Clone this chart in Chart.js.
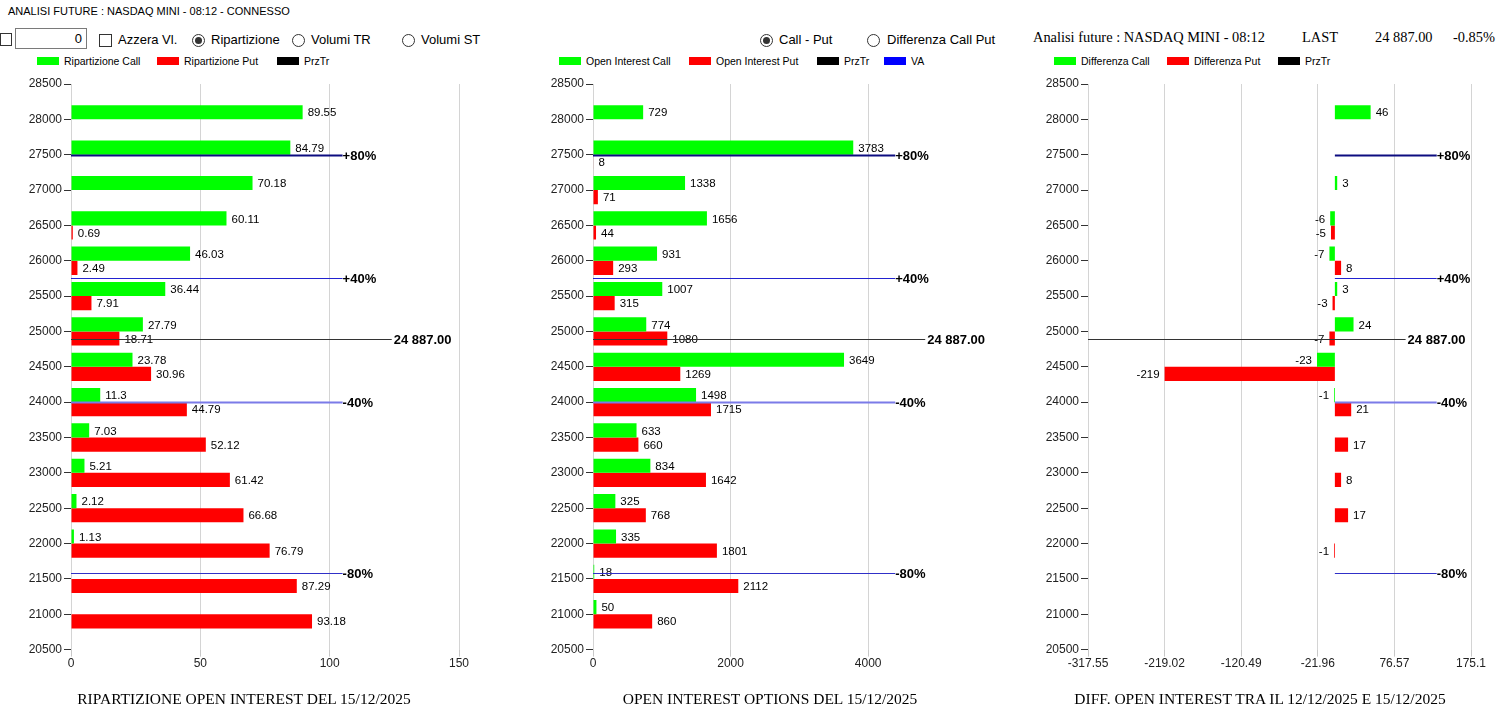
<!DOCTYPE html>
<html>
<head>
<meta charset="utf-8">
<title>Analisi future</title>
<script src="https://cdn.jsdelivr.net/npm/chart.js@4.4.1/dist/chart.umd.min.js"></script>
<style>
body { margin: 0; width: 1503px; height: 717px; background: #fff; position: relative; overflow: hidden; font-family: "Liberation Sans", Arial, sans-serif; color: #000; }
.abs { position: absolute; white-space: nowrap; }
.box { position: absolute; border: 1px solid #333; background: #fff; box-sizing: border-box; }
.radio { position: absolute; width: 13px; height: 13px; border: 1px solid #333; border-radius: 50%; box-sizing: border-box; background: #fff; }
.radio.on::after { content: ""; position: absolute; left: 2px; top: 2px; width: 7px; height: 7px; border-radius: 50%; background: #333; }
.leg { position: absolute; width: 22px; height: 8px; }
.wrap { position: absolute; top: 72px; height: 645px; }
.serif { font-family: "Liberation Serif", "Times New Roman", serif; }
.titolo { position: absolute; width: 600px; text-align: center; font-family: "Liberation Serif", "Times New Roman", serif; font-size: 15.5px; top: 690px; }
</style>
</head>
<body>

<div class="abs" style="left:8px; top:5px; font-size:11px;">ANALISI FUTURE : NASDAQ MINI - 08:12 - CONNESSO</div>

<div class="box" style="left:0px; top:33px; width:12px; height:13px;"></div>
<div class="box" style="left:15px; top:28px; width:72px; height:21px; border-color:#7a7a7a; text-align:right; font-size:13px; line-height:19px; padding-right:4px;">0</div>
<div class="box" style="left:99px; top:34px; width:13px; height:13px;"></div>
<div class="abs" style="left:118px; top:32px; font-size:13px;">Azzera Vl.</div>
<div class="radio on" style="left:192px; top:34px;"></div>
<div class="abs" style="left:211px; top:32px; font-size:13px;">Ripartizione</div>
<div class="radio" style="left:292px; top:34px;"></div>
<div class="abs" style="left:311px; top:32px; font-size:13px;">Volumi TR</div>
<div class="radio" style="left:402px; top:34px;"></div>
<div class="abs" style="left:421px; top:32px; font-size:13px;">Volumi ST</div>

<div class="radio on" style="left:760px; top:34px;"></div>
<div class="abs" style="left:779px; top:32px; font-size:13px;">Call - Put</div>
<div class="radio" style="left:867px; top:34px;"></div>
<div class="abs" style="left:887px; top:32px; font-size:13px;">Differenza Call Put</div>

<div class="abs serif" style="left:1033px; top:29px; font-size:14.4px;">Analisi future : NASDAQ MINI - 08:12</div>
<div class="abs serif" style="left:1302px; top:29px; font-size:14.4px;">LAST</div>
<div class="abs serif" style="left:1375px; top:29px; font-size:14.4px;">24 887.00</div>
<div class="abs serif" style="left:1453px; top:29px; font-size:14.4px;">-0.85%</div>

<div id="legende"></div>

<div class="wrap" style="left:0px; width:490px;"><canvas id="chartRip"></canvas></div>
<div class="wrap" style="left:522px; width:496px;"><canvas id="chartOI"></canvas></div>
<div class="wrap" style="left:1017px; width:486px;"><canvas id="chartDiff"></canvas></div>

<div class="titolo" style="left:-56px;">RIPARTIZIONE OPEN INTEREST DEL 15/12/2025</div>
<div class="titolo" style="left:470px;">OPEN INTEREST OPTIONS DEL 15/12/2025</div>
<div class="titolo" style="left:960px;">DIFF. OPEN INTEREST TRA IL 12/12/2025 E 15/12/2025</div>

<script>
var strikes = [28000, 27500, 27000, 26500, 26000, 25500, 25000, 24500, 24000, 23500, 23000, 22500, 22000, 21500, 21000];

var ripCall = [89.55, 84.79, 70.18, 60.11, 46.03, 36.44, 27.79, 23.78, 11.3, 7.03, 5.21, 2.12, 1.13, null, null];
var ripPut = [null, null, null, 0.69, 2.49, 7.91, 18.71, 30.96, 44.79, 52.12, 61.42, 66.68, 76.79, 87.29, 93.18];

var oiCall = [729, 3783, 1338, 1656, 931, 1007, 774, 3649, 1498, 633, 834, 325, 335, 18, 50];
var oiPut = [null, 8, 71, 44, 293, 315, 1080, 1269, 1715, 660, 1642, 768, 1801, 2112, 860];

var diffCall = [46, null, 3, -6, -7, 3, 24, -23, -1, null, null, null, null, null, null];
var diffPut = [null, null, null, -5, 8, -3, -7, -219, 21, 17, 8, 17, -1, null, null];

var ripTicks = [0, 50, 100, 150];
var oiTicks = [0, 2000, 4000];
var diffTicks = [-317.55, -219.02, -120.49, -21.96, 76.57, 175.1];

var levelLabels = ['+80%', '+40%', '-40%', '-80%'];
var levelStrikes = [27500, 25750, 24000, 21580];
var lastPrice = 24887;
var lastLabel = '24 887.00';

var VERDE = '#00ff00';
var ROSSO = '#ff0000';
var FONT = '"Liberation Sans", Arial, sans-serif';

// legende in html
var legende = [
    [37, VERDE, 'Ripartizione Call'], [157, ROSSO, 'Ripartizione Put'], [277, '#000', 'PrzTr'],
    [559, VERDE, 'Open Interest Call'], [689, ROSSO, 'Open Interest Put'], [817, '#000', 'PrzTr'], [884, '#0000ff', 'VA'],
    [1054, VERDE, 'Differenza Call'], [1167, ROSSO, 'Differenza Put'], [1278, '#000', 'PrzTr']
];
var html = '';
for (var i = 0; i < legende.length; i++) {
    html += '<div class="leg" style="left:' + legende[i][0] + 'px; top:57px; background:' + legende[i][1] + ';"></div>';
    html += '<div class="abs" style="left:' + (legende[i][0] + 27) + 'px; top:55px; font-size:10.5px;">' + legende[i][2] + '</div>';
}
document.getElementById('legende').innerHTML = html;

function toPoints(values) {
    var pts = [];
    for (var i = 0; i < strikes.length; i++) {
        if (values[i] !== null) pts.push({ x: values[i], y: strikes[i] });
    }
    return pts;
}

var levelColors = ['#0c0c80', '#2222d0', '#7b7be8', '#3030c8'];
var levelWidths = [2, 1, 2, 1];

var valoriPlugin = {
    id: 'valori',
    afterDatasetsDraw: function (chart, args, opts) {
        var ctx = chart.ctx;
        var xs = chart.scales.x;
        var ys = chart.scales.y;
        ctx.save();

        // valori accanto alle barre
        ctx.font = '11.5px ' + FONT;
        ctx.fillStyle = '#000';
        ctx.textBaseline = 'middle';
        chart.data.datasets.forEach(function (ds, i) {
            chart.getDatasetMeta(i).data.forEach(function (bar, j) {
                var v = ds.data[j].x;
                if (v < 0) {
                    ctx.textAlign = 'right';
                    ctx.fillText(String(v), bar.x - 5, bar.y + 1);
                } else {
                    ctx.textAlign = 'left';
                    ctx.fillText(String(v), bar.x + 5, bar.y + 1);
                }
            });
        });

        // livelli VA
        ctx.font = 'bold 13px ' + FONT;
        ctx.textAlign = 'left';
        var x0 = xs.getPixelForValue(0);
        var x1 = xs.getPixelForValue(opts.levelEnd);
        for (var k = 0; k < levelStrikes.length; k++) {
            var y = Math.round(ys.getPixelForValue(levelStrikes[k])) + 0.5;
            ctx.strokeStyle = levelColors[k];
            ctx.lineWidth = levelWidths[k];
            ctx.beginPath();
            ctx.moveTo(x0, y);
            ctx.lineTo(x1, y);
            ctx.stroke();
            ctx.fillText(levelLabels[k], x1, y + 1);
        }

        // prezzo
        var yp = Math.round(ys.getPixelForValue(lastPrice)) + 0.5;
        var xp = xs.getPixelForValue(opts.priceEnd);
        ctx.strokeStyle = '#333';
        ctx.lineWidth = 1;
        ctx.beginPath();
        ctx.moveTo(xs.left, yp);
        ctx.lineTo(xp, yp);
        ctx.stroke();
        ctx.fillText(lastLabel, xp + 2, yp + 1);
        ctx.restore();
    }
};

function makeChart(id, callValues, putValues, callLabel, putLabel, xMin, xMax, xTicks, levelEnd, priceEnd, padRight) {
    var ctx = document.getElementById(id).getContext('2d');
    return new Chart(ctx, {
        type: 'bar',
        data: {
            datasets: [{
                label: callLabel,
                data: toPoints(callValues),
                backgroundColor: VERDE,
                categoryPercentage: 0.8,
                barPercentage: 1.0
            }, {
                label: putLabel,
                data: toPoints(putValues),
                backgroundColor: ROSSO,
                categoryPercentage: 0.8,
                barPercentage: 1.0
            }]
        },
        options: {
            indexAxis: 'y',
            responsive: true,
            maintainAspectRatio: false,
            animation: false,
            layout: { padding: { top: 12, right: padRight, bottom: 46, left: 0 } },
            plugins: {
                legend: { display: false },
                tooltip: { enabled: false },
                valori: { levelEnd: levelEnd, priceEnd: priceEnd }
            },
            scales: {
                y: {
                    type: 'linear',
                    min: 20500,
                    max: 28500,
                    offset: false,
                    afterFit: function (scale) { scale.width = 71; },
                    ticks: {
                        stepSize: 500,
                        padding: 2,
                        color: '#222',
                        font: { family: FONT, size: 12 },
                        callback: function (v) { return String(v); }
                    },
                    grid: { offset: false, drawOnChartArea: false, tickLength: 7, tickColor: '#333' },
                    border: { display: false }
                },
                x: {
                    type: 'linear',
                    min: xMin,
                    max: xMax,
                    afterBuildTicks: function (scale) {
                        scale.ticks = xTicks.map(function (v) { return { value: v }; });
                    },
                    ticks: {
                        padding: 0,
                        color: '#222',
                        font: { family: FONT, size: 12 },
                        callback: function (v) { return String(v); }
                    },
                    grid: { color: '#d4d4d4', tickLength: 7, tickColor: '#c8c8c8' },
                    border: { display: false }
                }
            }
        },
        plugins: [valoriPlugin]
    });
}

makeChart('chartRip', ripCall, ripPut, 'Ripartizione Call', 'Ripartizione Put', 0, 150, ripTicks, 105, 124, 31);
makeChart('chartOI', oiCall, oiPut, 'Open Interest Call', 'Open Interest Put', 0, 5640, oiTicks, 4393, 4829, 37);
makeChart('chartDiff', diffCall, diffPut, 'Differenza Call', 'Differenza Put', -317.55, 175.1, diffTicks, 131, 91, 32);
</script>
</body>
</html>
